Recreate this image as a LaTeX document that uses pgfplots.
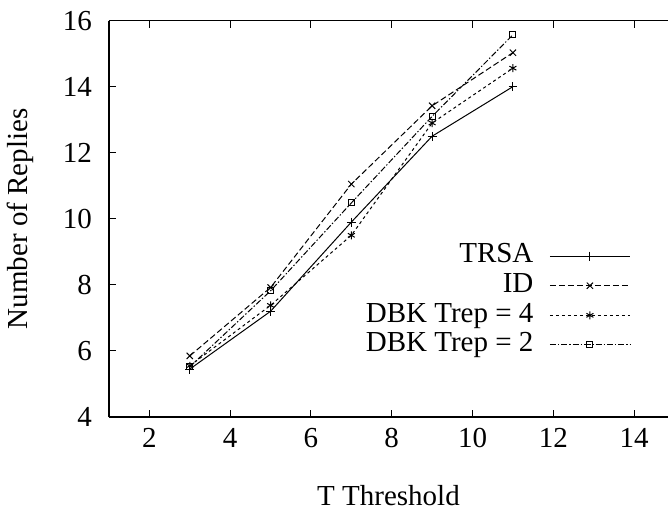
\documentclass[border=0pt]{standalone}
\usepackage{fontspec}
\setmainfont{Liberation Serif}
\usepackage{pgfplots}
\pgfplotsset{compat=1.18}

\begin{document}
\begin{tikzpicture}
\begin{axis}[
  width=279.5pt, height=198.2pt, scale only axis,
  xmin=1, xmax=14.84, ymin=4, ymax=16,
  xtick={2,4,...,14}, ytick={4,6,...,16},
  axis x line*=box, axis y line*=left,
  axis line style={line width=0.6pt, -},
  tick style={line width=0.5pt, black},
  major tick length=3.5pt,
  tick align=inside,
  font=\fontsize{14.5}{16}\selectfont,
  /pgf/number format/assume math mode=true,
  xticklabel style={yshift=-2pt},
  yticklabel style={xshift=-5pt},
  xlabel={T Threshold}, ylabel={Number of Replies},
  xlabel style={at={(axis description cs:0.5,0)}, anchor=center, yshift=-39.5pt},
  ylabel style={at={(axis description cs:-0.159,0.5)}, anchor=center},
  legend plot pos=right,
  legend cell align=right,
  legend image code/.code={%
    \draw[mark repeat=2, mark phase=2, #1]
      plot coordinates {(0pt,0pt) (20pt,0pt) (40pt,0pt)};},
  legend style={draw=none, fill=none, at={(axis cs:13.92,9.33)}, anchor=north east,
    inner sep=0pt, row sep=0pt, column sep=6pt,
    nodes={inner xsep=2pt, inner ysep=1pt, text height=9.8pt, text depth=3pt}},
  every axis plot/.append style={line width=0.5pt, black, mark options={solid}},
]
\addplot[mark=+, mark size=2.2pt] coordinates {
  (3,5.45) (5,7.20) (7,9.90) (9,12.50) (11,14.00)};
\addplot[mark=x, mark size=2.2pt, dash pattern=on 3pt off 1.5pt] coordinates {
  (3,5.85) (5,7.92) (7,11.05) (9,13.42) (11,15.03)};
\addplot[mark=asterisk, mark size=2pt, dash pattern=on 1.5pt off 1.5pt] coordinates {
  (3,5.55) (5,7.38) (7,9.50) (9,12.90) (11,14.56)};
\addplot[mark=square, mark size=1.5pt, dash pattern=on 3pt off 1pt on 0.7pt off 1pt] coordinates {
  (3,5.52) (5,7.82) (7,10.48) (9,13.10) (11,15.57)};
\legend{TRSA, ID, DBK Trep = 4, DBK Trep = 2}
\end{axis}
\pgfresetboundingbox
\path[use as bounding box] (-54.5pt,-48pt) rectangle (279.5pt,208.5pt);
\end{tikzpicture}
\end{document}
